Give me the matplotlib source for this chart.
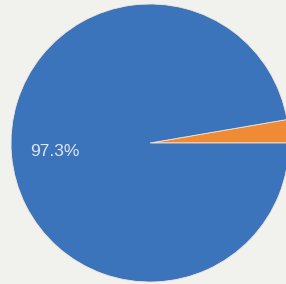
import matplotlib
matplotlib.use("Agg")
import matplotlib.pyplot as plt

labels = ["Other", "Main"]
values = [2.7, 97.3]
colors = ["#ef8a35", "#3b74bb"]
shown_labels = ["", "97.3%"]

W, H = 286, 284
fig = plt.figure(figsize=(W / 100, H / 100), dpi=100)
fig.patch.set_facecolor("#f1f1ed")
cx, cy, r = 150, 284 - 143, 139
ax = fig.add_axes([(cx - r) / W, (cy - r) / H, 2 * r / W, 2 * r / H])
ax.set_facecolor("none")

wedges, _ = ax.pie(values, colors=colors, startangle=0, counterclock=True,
                   radius=1, wedgeprops=dict(edgecolor="#f4e6d8", linewidth=0.6))
import numpy as np
ang = 0.0
tot = sum(values)
for v, lab in zip(values, shown_labels):
    mid = np.deg2rad(ang + v / tot * 360 / 2)
    ang += v / tot * 360
    if lab:
        ax.text(0.69 * np.cos(mid), 0.69 * np.sin(mid), lab, ha="center", va="center",
                color="#dfe6ef", fontsize=12.5, family=["Liberation Sans", "DejaVu Sans"])
ax.set_xlim(-1, 1)
ax.set_ylim(-1, 1)
ax.set_aspect("auto")
ax.axis("off")
fig.savefig("out.png", dpi=100, facecolor=fig.get_facecolor())
